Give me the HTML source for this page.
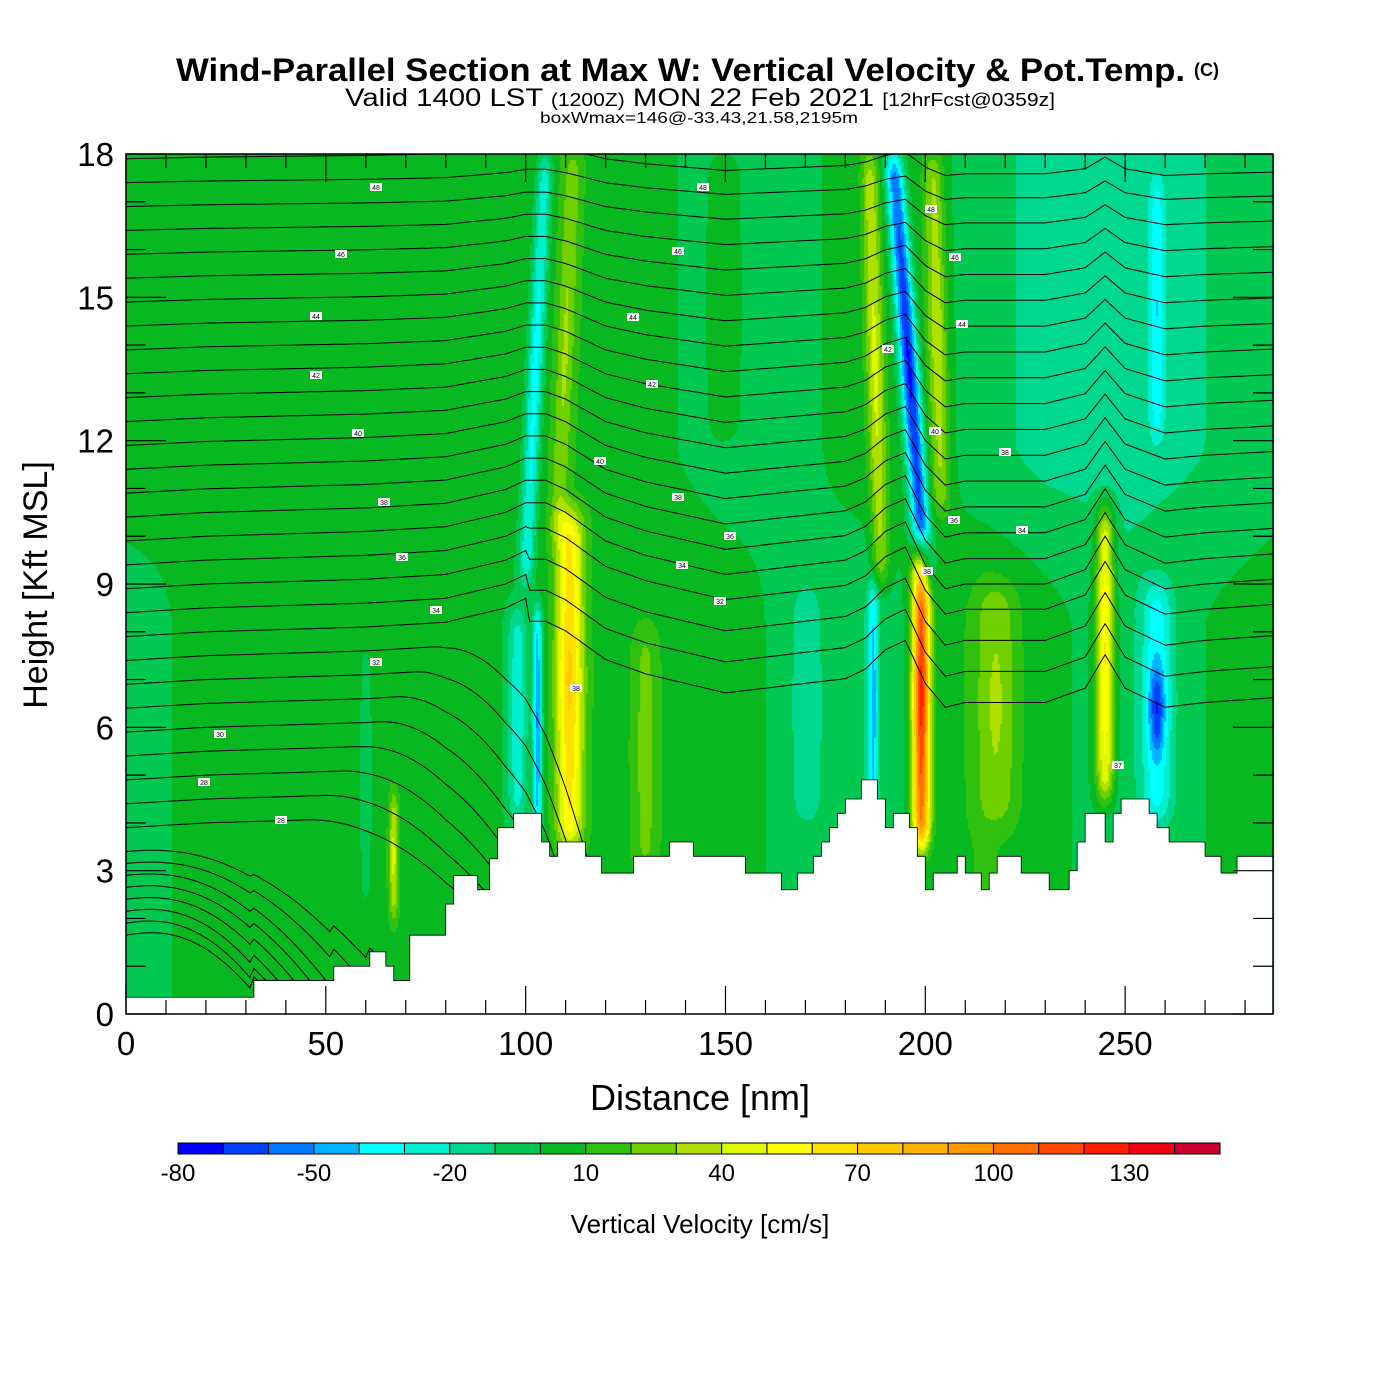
<!DOCTYPE html>
<html><head><meta charset="utf-8">
<style>
html,body{margin:0;padding:0;background:#fff;width:1400px;height:1400px;overflow:hidden;}
#wrap{position:relative;width:1400px;height:1400px;overflow:hidden;font-family:"Liberation Sans",sans-serif;}
canvas{position:absolute;left:0;top:0;}
svg{position:absolute;left:0;top:0;}
</style></head>
<body>
<div id="wrap">
<canvas id="field" width="1400" height="1400"></canvas>
<svg id="svg" width="1400" height="1400"></svg>
<svg width="1400" height="1400" font-family="Liberation Sans, sans-serif">
  <text x="176" y="81" font-size="32" font-weight="bold" textLength="1009" lengthAdjust="spacingAndGlyphs">Wind-Parallel Section at Max W: Vertical Velocity &amp; Pot.Temp.</text>
  <text x="1194" y="76" font-size="18" font-weight="bold">(C)</text>
  <text x="345" y="106" font-size="25" textLength="710" lengthAdjust="spacingAndGlyphs">Valid 1400 LST <tspan font-size="18">(1200Z)</tspan> MON 22 Feb 2021 <tspan font-size="18">[12hrFcst@0359z]</tspan></text>
  <text x="540" y="123" font-size="16" textLength="318" lengthAdjust="spacingAndGlyphs">boxWmax=146@-33.43,21.58,2195m</text>
  <text x="700" y="1110" font-size="36" text-anchor="middle">Distance [nm]</text>
  <text x="0" y="0" font-size="34" text-anchor="middle" transform="translate(47,585) rotate(-90)">Height [Kft MSL]</text>
  <text x="700" y="1233" font-size="26" text-anchor="middle">Vertical Velocity [cm/s]</text>
  <g id="cb"></g>
</svg>
</div>
<script>
// ---------- data ----------
const colorBounds = [-80,-70,-60,-50,-40,-30,-20,-10,0,10,20,30,40,50,60,70,80,90,100,110,120,130,140,150];
const colorFills = ["#0000ff","#0040ff","#0078ff","#00b4ff","#00ffff","#00f0d0","#00d890","#00c850","#08b820","#30c010","#70d000","#b0e000","#e0f800","#ffff00","#ffe000","#ffc800","#ffb000","#ff9800","#ff7000","#ff4800","#ff2000","#f00010","#c80030"];
const cbTickValues = [-80,-50,-20,10,40,70,100,130];
const xTickValues = [0,50,100,150,200,250];
const yTickValues = [0,3,6,9,12,15,18];
// terrain: step start (nm) and height (kft)
const terrainX = [0,32,52,61,65,67,71,80,82,88,91,93,97,104,106,108,115,119,127,136,142,155,164,168,172,174,176,178,180,184,188,190,192,196,198,200,202,208,210,214,216,218,224,231,236,238,240,245,247,249,256,258,261,270,274,278,287];
const terrainH = [0.35,0.7,1.0,1.3,1.0,0.7,1.65,2.3,2.9,2.6,3.25,3.9,4.2,3.6,3.3,3.6,3.3,2.95,3.3,3.6,3.3,2.95,2.6,2.95,3.3,3.6,3.9,4.2,4.5,4.9,4.5,3.9,4.2,3.9,3.3,2.6,2.95,3.3,2.95,2.6,2.95,3.3,2.95,2.6,3.0,3.6,4.2,3.6,4.2,4.5,4.2,3.9,3.6,3.3,2.95,3.3,3.3];
// background W (cm/s)
const bgX    = [0,20,40,60,80,95,110,130,150,170,185,200,215,230,250,270,287];
const bgLow  = [-4,3,5,6,5,2,5,8,4,-4,-8,2,12,3,-6,0,5];
const bgHigh = [5,2,6,3,6,4,10,2,-3,-2,5,5,-8,-12,-14,-10,-5];
// W features: x at bottom, x at top, y bottom, y top (kft), sigma (nm), amplitude (cm/s)
const featX0  = [111,103,100,108,200,189,204,199,187,245,258,258,67,130,218,98,170,258,60,150];
const featX1  = [111,103,105,112,192,186,202,199,187,245,258,258,67,130,218,98,170,258,60,150];
const featY0  = [3.5,3.8,9,10,9,9,10.5,3.5,4,4.5,4,5.5,2,3,4,4,4,12,2,12];
const featY1  = [10.5,8.5,18,18,18,18,18,9.8,9,10.6,9,7.2,4.6,8,9,8.5,9,17.5,8,18];
const featSig = [3.5,1.2,2,2.2,2.3,2.2,2.5,2.2,1.3,2.3,4,1.8,1.2,3,5,2.5,4,2,3,4];
const featAmp = [68,-55,-42,22,-78,38,35,125,-40,65,-38,-30,38,18,22,-32,-14,-28,-8,8];
// potential temperature lines: base height at left edge (kft)
const thetaBase = [3.9,4.4,4.9,5.4,5.9,6.4,6.9,7.4,7.9,8.4,8.9,9.4,9.9,10.4,10.9,11.4,11.9,12.4,12.9,13.4,13.9,14.4,14.9,15.4,15.9,16.4,16.9,17.4,17.9];
const lowBase   = [1.65,1.9,2.15,2.4,2.65,2.9,3.15,3.4];
const lowGround = [33,35,38,42,46,50,56,62];
// displacement of isentropes along the section (kft)
const dispX = [0,20,40,60,80,95,100,105,110,115,120,130,140,150,160,170,180,185,190,195,200,205,210,220,230,240,245,250,260,270,287];
const dispV = [0,0.1,0.15,0.2,0.3,0.6,0.8,0.8,0.6,0.3,0,-0.3,-0.5,-0.7,-0.6,-0.5,-0.4,-0.2,0.2,0.4,-0.5,-1.0,-0.9,-0.9,-0.9,-0.6,0.1,-0.6,-1.0,-0.9,-0.8];
const labelPx = [[376,187,"48"],[703,187,"48"],[341,254,"46"],[678,251,"46"],[316,316,"44"],[633,317,"44"],[316,375,"42"],[652,384,"42"],[358,433,"40"],[600,461,"40"],[384,502,"38"],[678,497,"38"],[402,557,"36"],[730,536,"36"],[436,610,"34"],[682,565,"34"],[376,662,"32"],[720,601,"32"],[220,734,"30"],[204,782,"28"],[281,820,"28"],[576,688,"38"],[931,209,"48"],[955,257,"46"],[962,324,"44"],[888,349,"42"],[935,431,"40"],[1005,452,"38"],[954,520,"36"],[1022,530,"34"],[927,571,"38"],[1118,765,"37"]];

// ---------- axes ----------
const PL=126, PR=1273, PT=154, PB=1014, XMAX=287, YMAX=18;
const X = nm => PL + nm*(PR-PL)/XMAX;
const Y = k => PB - k*(PB-PT)/YMAX;
function interp(xs, vs, x){
  if(x<=xs[0]) return vs[0];
  for(let i=1;i<xs.length;i++){ if(x<=xs[i]){const t=(x-xs[i-1])/(xs[i]-xs[i-1]);return vs[i-1]+t*(vs[i]-vs[i-1]);} }
  return vs[vs.length-1];
}
function terrainAt(x){ let h=terrainH[0]; for(let i=0;i<terrainX.length;i++){ if(x>=terrainX[i]) h=terrainH[i]; } return h; }
function smooth(e0,e1,v){ const t=Math.max(0,Math.min(1,(v-e0)/(e1-e0))); return t*t*(3-2*t); }
function W(x,y){
  const lo=interp(bgX,bgLow,x), hi=interp(bgX,bgHigh,x);
  const m=smooth(8,12,y);
  let w=lo*(1-m)+hi*m;
  for(let i=0;i<featAmp.length;i++){
    const f=Math.max(0,Math.min(1,(y-featY0[i])/(featY1[i]-featY0[i])));
    const xc=featX0[i]+(featX1[i]-featX0[i])*f;
    const ty=smooth(featY0[i]-0.6,featY0[i]+0.6,y)*(1-smooth(featY1[i]-0.6,featY1[i]+0.6,y));
    const core=1-0.25*Math.abs(2*f-1);
    const d=(x-xc)/featSig[i];
    w+=featAmp[i]*Math.exp(-d*d)*ty*core;
  }
  return w;
}
function colorFor(w){
  for(let i=0;i<colorFills.length;i++){ if(w<colorBounds[i+1]) return colorFills[i]; }
  return colorFills[colorFills.length-1];
}
// ---------- field ----------
const ctx=document.getElementById('field').getContext('2d');
const step=2;
for(let px=PL;px<PR;px+=step){
  for(let py=PT;py<PB;py+=step){
    const x=(px+1-PL)*XMAX/(PR-PL), y=(PB-(py+1))*YMAX/(PB-PT);
    ctx.fillStyle=colorFor(W(x,y));
    ctx.fillRect(px,py,step,step);
  }
}
// ---------- svg ----------
const NS="http://www.w3.org/2000/svg";
const svg=document.getElementById('svg');
function mk(tag,attrs,parent){const e=document.createElementNS(NS,tag);for(const k in attrs)e.setAttribute(k,attrs[k]);(parent||svg).appendChild(e);return e;}
function txt(s,attrs,parent){const e=mk('text',attrs,parent);e.textContent=s;return e;}
const defs=mk('defs',{});
const cp=mk('clipPath',{id:'plotclip'},defs);
mk('rect',{x:PL,y:PT,width:PR-PL,height:PB-PT},cp);

// isentropes
const gTheta=mk('g',{fill:'none',stroke:'#000','stroke-width':1,'clip-path':'url(#plotclip)'});


thetaBase.forEach((b,i)=>{
  let pts=[];
  const wgt = b<10 ? 1 : Math.max(0.35, 1-(b-10)*0.09);
  const xs0 = 45 + (b-3.9)*9;
  for(let x=0;x<=XMAX;x+=1){
    let h=b+interp(dispX,dispV,x)*wgt;
    if(b<7.5 && x>xs0){ const t=(x-xs0)/45; h-=t*t*(b-1.5); }
    if(b>=7.5 && b<9.5 && x>100){ h-=0.3*(9.5-b); }
    pts.push(X(x).toFixed(1)+','+Y(h).toFixed(1));
  }
  const p=mk('polyline',{points:pts.join(' ')},gTheta);
  
  
});
lowBase.forEach((b,i)=>{
  let pts=[];
  const xg=lowGround[i];
  for(let x=0;x<=xg;x+=1){
    const t=x/xg;
    const g=terrainAt(x);
    const h=b+(g-b)*Math.pow(t,2.2)+0.15*Math.sin(Math.PI*t);
    pts.push(X(x).toFixed(1)+','+Y(h).toFixed(1));
  }
  const p=mk('polyline',{points:pts.join(' ')},gTheta);
  
  
});
// contour labels
labelPx.forEach(l=>{
  const g=mk('g',{});
  
  
  mk('rect',{x:l[0]-6,y:l[1]-4,width:12,height:8,fill:'#fff'},g);
  txt(l[2],{x:l[0],y:l[1]+3,'font-size':7,'text-anchor':'middle','font-family':'Liberation Sans, sans-serif'},g);
});
// terrain
let tp=[X(0)+','+Y(0)];
for(let i=0;i<terrainX.length-1;i++){
  tp.push(X(terrainX[i])+','+Y(terrainH[i]));
  tp.push(X(terrainX[i+1])+','+Y(terrainH[i]));
}
tp.push(X(XMAX)+','+Y(terrainH[terrainH.length-1]));
tp.push(X(XMAX)+','+Y(0));
const terr=mk('polygon',{points:tp.join(' '),fill:'#fff',stroke:'#000','stroke-width':0.8});


// ticks
const gT=mk('g',{stroke:'#000','stroke-width':1.2});


for(let v=0;v<=18;v+=1){
  const maj=v%3===0, L=maj?40:20;
  mk('line',{x1:PL,y1:Y(v),x2:PL+L,y2:Y(v)},gT);
  mk('line',{x1:PR,y1:Y(v),x2:PR-L,y2:Y(v)},gT);
}
for(let v=0;v<=280;v+=10){
  const maj=v%50===0, L=maj?28:14;
  mk('line',{x1:X(v),y1:PB,x2:X(v),y2:PB-L},gT);
  mk('line',{x1:X(v),y1:PT,x2:X(v),y2:PT+L},gT);
}
const frame=mk('rect',{x:PL,y:PT,width:PR-PL,height:PB-PT,fill:'none',stroke:'#000','stroke-width':1.5});


// tick labels
xTickValues.forEach(v=>{
  const t=txt(String(v),{x:X(v),y:1055,'font-size':33,'text-anchor':'middle'});
  
  
});
yTickValues.forEach(v=>{
  const t=txt(String(v),{x:114,y:Y(v)+12,'font-size':33,'text-anchor':'end'});
  
  
});
// colorbar
(function(){
  const g=document.getElementById('cb');
  const x0=178, x1=1220, w=(x1-x0)/colorFills.length;
  const C=v=>x0+(v-colorBounds[0])/(colorBounds[colorBounds.length-1]-colorBounds[0])*(x1-x0);
  colorFills.forEach((c,i)=>{
    const r=document.createElementNS(NS,'rect');
    r.setAttribute('x',C(colorBounds[i]));r.setAttribute('y',1143);r.setAttribute('width',w);r.setAttribute('height',11);
    r.setAttribute('fill',c);r.setAttribute('stroke','#000');r.setAttribute('stroke-width','1');
    
    
    g.appendChild(r);
  });
  cbTickValues.forEach(v=>{
    const t=document.createElementNS(NS,'text');
    t.setAttribute('x',C(v));t.setAttribute('y',1181);t.setAttribute('font-size','24');t.setAttribute('text-anchor','middle');
    
    
    t.textContent=String(v);
    g.appendChild(t);
  });
})();
</script>
</body></html>
